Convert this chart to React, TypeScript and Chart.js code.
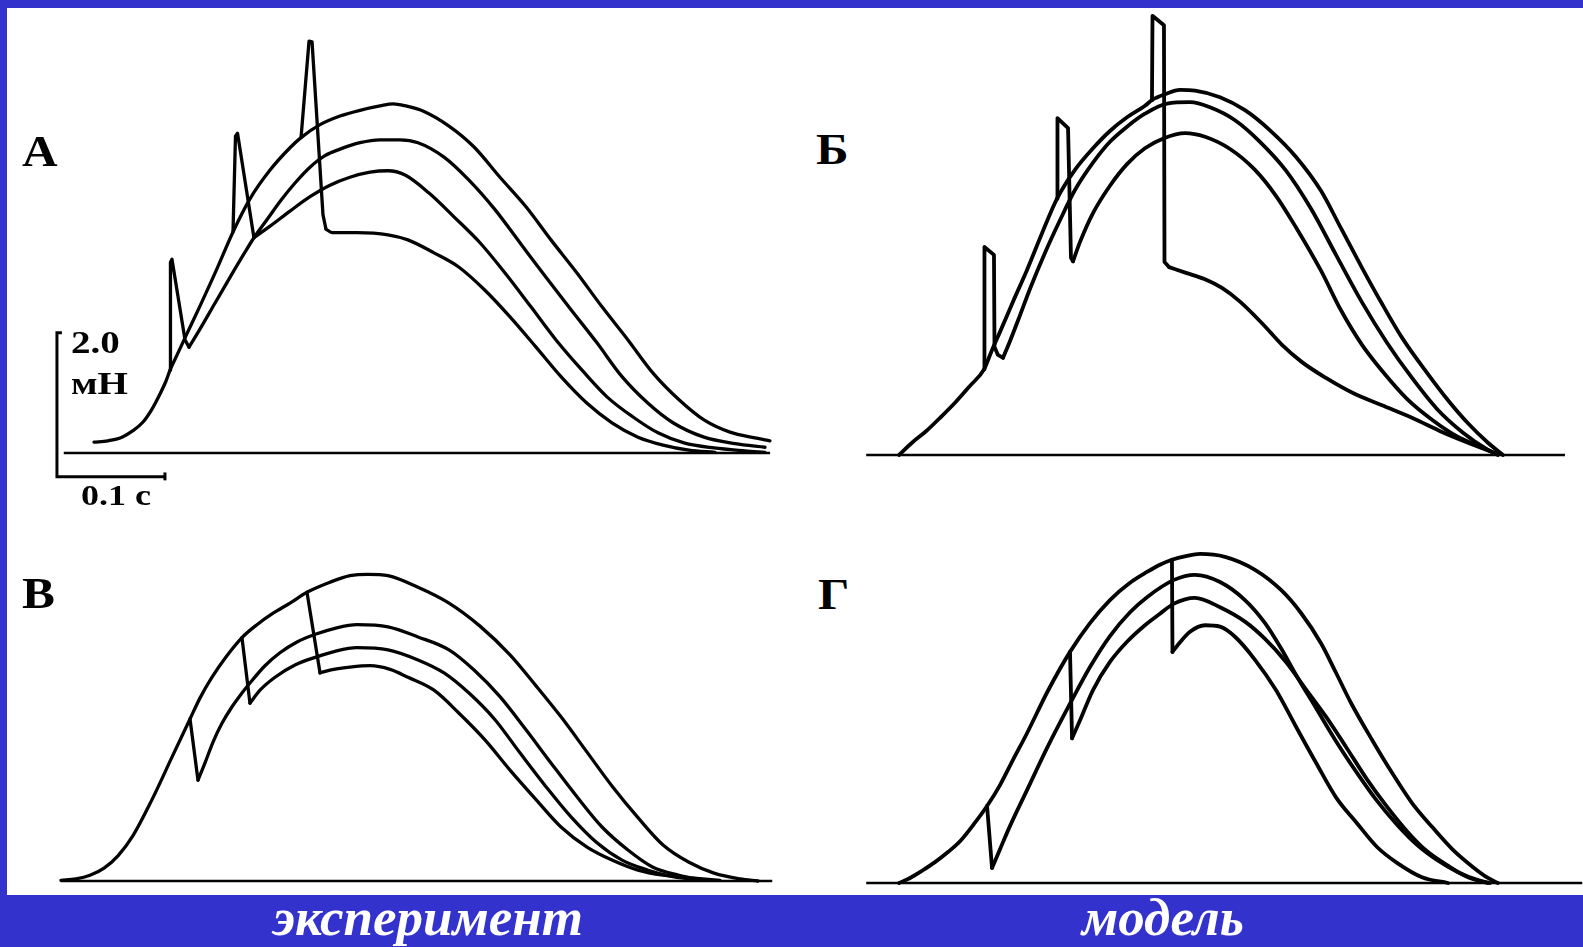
import React, { useEffect, useRef } from "react";
import { Chart, registerables } from "chart.js";

Chart.register(...registerables);

// Each point is [time, ms ; force, mN]
type Pt = [number, number];

// ---------- Panel А: experiment, three perturbation times ----------
const riseA: Pt[] = [[50, 0.15], [63, 0.17], [75.9, 0.22], [86.1, 0.31], [95.4, 0.43], [103.7, 0.61], [111.1, 0.82], [116.7, 1.0], [120.4, 1.15]];
const ctrlA: Pt[] = [[127.8, 1.39], [135.2, 1.63], [148.1, 2.04], [163.9, 2.56], [178.7, 3.07], [194.4, 3.53], [213, 3.93], [231.5, 4.24], [241.7, 4.38], [259.3, 4.56], [277.8, 4.68], [296.3, 4.76], [314.8, 4.82], [326.9, 4.85], [338.9, 4.82], [354.6, 4.75], [378.7, 4.54], [401.9, 4.25], [425.9, 3.83], [450, 3.42], [473.1, 2.96], [497.2, 2.5], [520.4, 2.03], [544.4, 1.57], [567.6, 1.11], [591.7, 0.74], [614.8, 0.46], [638.9, 0.29], [662, 0.21], [675.9, 0.17]];
const jumpA1: Pt[] = [[120.4, 1.15], [120.8, 2.65], [122.2, 2.69], [134.3, 1.57], [138, 1.47]];
const stepA1: Pt[] = [[138, 1.47], [148.1, 1.72], [162, 2.08], [175.9, 2.44], [189.8, 2.79], [198.1, 2.99], [211.1, 3.26], [223.1, 3.51], [236.1, 3.75], [250, 3.97], [263.9, 4.13], [277.8, 4.22], [296.3, 4.31], [314.8, 4.35], [333.3, 4.35], [350, 4.31], [374.1, 4.11], [397.2, 3.79], [421.3, 3.38], [444.4, 2.92], [468.5, 2.44], [491.7, 1.99], [515.7, 1.53], [538.9, 1.06], [563, 0.69], [586.1, 0.42], [614.8, 0.22], [643.5, 0.13], [671.3, 0.08]];
const jumpA2: Pt[] = [[178.7, 3.07], [181, 4.4], [182.9, 4.44], [198.1, 2.99]];
const stepA2: Pt[] = [[198.1, 2.99], [213, 3.15], [231.5, 3.36], [250, 3.56], [268.5, 3.72], [287, 3.83], [305.6, 3.9], [322.2, 3.92], [338, 3.86], [360.2, 3.61], [383.3, 3.28], [407.4, 2.92], [430.6, 2.5], [454.6, 2.03], [477.8, 1.57], [501.9, 1.15], [525, 0.78], [549.1, 0.5], [572.2, 0.28], [596.3, 0.14], [624.1, 0.07], [652.8, 0.03], [671.3, 0.01]];
const jumpA3: Pt[] = [[241.7, 4.38], [249.1, 5.72], [251.9, 5.71], [262, 3.31], [264.8, 3.11]];
const stepA3: Pt[] = [[264.8, 3.11], [270.4, 3.06], [293.5, 3.06], [322.2, 3.03], [340.7, 2.96], [364.8, 2.78], [388, 2.58], [412, 2.26], [435.2, 1.89], [459.3, 1.47], [482.4, 1.06], [506.5, 0.69], [529.6, 0.42], [553.7, 0.22], [576.9, 0.11], [600.9, 0.04], [625, 0.01]];
const baseA: Pt[] = [[22, 0], [676, 0]];

// ---------- Panel Б: model, three perturbation times ----------
const riseB: Pt[] = [[45.4, 0], [57.4, 0.17], [70.4, 0.33], [84.3, 0.53], [98.1, 0.74], [111.1, 0.96], [124.1, 1.19]];
const ctrlB: Pt[] = [[131.5, 1.46], [138.9, 1.71], [150.9, 2.13], [163.9, 2.57], [177.8, 3.08], [191.7, 3.56], [208.3, 3.96], [225, 4.26], [240.7, 4.5], [256.5, 4.69], [273.1, 4.85], [279.6, 4.93], [291.7, 5.01], [305.6, 5.07], [319.4, 5.06], [342.6, 4.97], [365.7, 4.79], [388.9, 4.51], [413, 4.14], [436.1, 3.67], [454.6, 3.15], [474.1, 2.6], [492.6, 2.1], [511.1, 1.63], [534.3, 1.14], [553.7, 0.76], [572.2, 0.44], [590.7, 0.17], [604.6, 0]];
const jumpB1: Pt[] = [[124.1, 1.19], [124.5, 2.89], [133.3, 2.78], [133.8, 1.5], [137, 1.39], [141.7, 1.35]];
const stepB1: Pt[] = [[141.7, 1.35], [148.1, 1.58], [157.4, 1.94], [166.7, 2.31], [180.6, 2.81], [194.4, 3.26], [208.3, 3.68], [225, 4.06], [240.7, 4.35], [256.5, 4.56], [273.1, 4.74], [293.5, 4.88], [314.8, 4.9], [333.3, 4.83], [356.5, 4.65], [379.6, 4.35], [403.7, 3.95], [426.9, 3.42], [450, 2.78], [474.1, 2.12], [497.2, 1.56], [520.4, 1.07], [543.5, 0.64], [567.6, 0.31], [590.7, 0.07], [600, 0]];
const jumpB2: Pt[] = [[191.7, 3.56], [192.1, 4.68], [201.9, 4.54], [204.6, 2.74], [206.5, 2.69]];
const stepB2: Pt[] = [[206.5, 2.69], [213, 2.96], [225, 3.36], [240.7, 3.74], [256.5, 4.04], [273.1, 4.26], [290.7, 4.4], [310.2, 4.47], [328.7, 4.42], [351.9, 4.25], [375, 3.96], [394.4, 3.6], [413, 3.16], [436.1, 2.56], [454.6, 2.01], [474.1, 1.53], [492.6, 1.17], [515.7, 0.78], [538.9, 0.49], [563, 0.25], [586.1, 0.1], [600, 0.01]];
const jumpB3: Pt[] = [[279.6, 4.93], [280.1, 6.1], [290.7, 5.97], [291.2, 2.68], [295.4, 2.61]];
const stepB3: Pt[] = [[295.4, 2.61], [311.1, 2.53], [328.7, 2.44], [344.4, 2.32], [361.1, 2.13], [381.5, 1.83], [400, 1.53], [418.5, 1.29], [440.7, 1.07], [465.7, 0.86], [492.6, 0.69], [521.3, 0.51], [548.1, 0.32], [572.2, 0.17], [600, 0.01]];
const baseB: Pt[] = [[15, 0], [662, 0]];

// ---------- Panel В: experiment, three release times ----------
const riseC: Pt[] = [[19.4, 0.01], [33.3, 0.03], [46.3, 0.08], [59.3, 0.18], [72.2, 0.35], [86.1, 0.63], [103.7, 1.13], [122.2, 1.72], [138.9, 2.25]];
const ctrlC: Pt[] = [[148.1, 2.54], [159.3, 2.83], [172.2, 3.11], [187, 3.38], [200.9, 3.56], [214.8, 3.71], [231.5, 3.86], [247.2, 4.01], [268.5, 4.15], [287, 4.24], [303.7, 4.26], [322.2, 4.24], [350, 4.08], [378.7, 3.86], [407.4, 3.54], [435.2, 3.14], [459.3, 2.71], [482.4, 2.28], [506.5, 1.79], [529.6, 1.32], [553.7, 0.88], [576.9, 0.5], [600.9, 0.26], [624.1, 0.11], [648.1, 0.03], [664.8, 0]];
const jumpC1: Pt[] = [[138.9, 2.25], [146.3, 1.4]];
const stepC1: Pt[] = [[146.3, 1.4], [152.8, 1.64], [160.2, 1.93], [168.5, 2.19], [177.8, 2.42], [187, 2.61], [194.4, 2.75], [208.3, 2.99], [222.2, 3.17], [238, 3.32], [255.6, 3.43], [273.1, 3.51], [293.5, 3.56], [322.2, 3.53], [350, 3.39], [378.7, 3.21], [401.9, 2.93], [425.9, 2.56], [450, 2.1], [473.1, 1.64], [497.2, 1.17], [520.4, 0.75], [544.4, 0.43], [567.6, 0.19], [591.7, 0.08], [614.8, 0.01]];
const jumpC2: Pt[] = [[187, 3.38], [194.4, 2.47]];
const stepC2: Pt[] = [[194.4, 2.47], [203.7, 2.65], [217.6, 2.83], [236.1, 3.0], [255.6, 3.11], [273.1, 3.19], [293.5, 3.24], [322.2, 3.21], [350, 3.07], [374.1, 2.89], [397.2, 2.61], [421.3, 2.24], [444.4, 1.78], [468.5, 1.31], [491.7, 0.89], [515.7, 0.53], [538.9, 0.29], [563, 0.15], [586.1, 0.06], [614.8, 0.01]];
const jumpC3: Pt[] = [[247.2, 4.01], [259.3, 2.89]];
const stepC3: Pt[] = [[259.3, 2.89], [268.5, 2.93], [287, 2.97], [305.6, 2.99], [324.1, 2.94], [340.7, 2.83], [364.8, 2.65], [388, 2.33], [412, 1.96], [435.2, 1.54], [459.3, 1.13], [482.4, 0.75], [506.5, 0.47], [529.6, 0.29], [553.7, 0.15], [576.9, 0.08], [605.6, 0.04], [629.6, 0.01]];
const baseC: Pt[] = [[19, 0], [678, 0]];

// ---------- Panel Г: model, three release times ----------
const riseD: Pt[] = [[45.4, 0], [55.6, 0.07], [66.7, 0.17], [78.7, 0.29], [90.7, 0.43], [101.9, 0.58], [114.8, 0.82], [126.9, 1.07]];
const ctrlD: Pt[] = [[138.9, 1.36], [150.9, 1.71], [163.9, 2.08], [183.3, 2.67], [203.7, 3.21], [222.2, 3.61], [240.7, 3.93], [259.3, 4.17], [275, 4.32], [287, 4.42], [298.1, 4.49], [311.1, 4.54], [324.1, 4.57], [347.2, 4.53], [375, 4.35], [399.1, 4.07], [417.6, 3.75], [436.1, 3.33], [450, 2.92], [463.9, 2.5], [483.3, 1.99], [501.9, 1.53], [520.4, 1.11], [538.9, 0.78], [558.3, 0.46], [576.9, 0.22], [590.7, 0.07], [600, 0]];
const jumpD1: Pt[] = [[126.9, 1.07], [131.5, 0.21]];
const stepD1: Pt[] = [[131.5, 0.21], [138.9, 0.47], [148.1, 0.79], [163.9, 1.29], [183.3, 1.9], [203.7, 2.49], [222.2, 3.0], [240.7, 3.43], [259.3, 3.76], [275, 3.97], [300, 4.21], [319.4, 4.28], [342.6, 4.18], [365.7, 3.93], [384.3, 3.61], [399.1, 3.26], [413, 2.89], [431.5, 2.43], [450, 1.97], [469.4, 1.53], [488, 1.14], [506.5, 0.81], [525, 0.53], [543.5, 0.32], [563, 0.15], [581.5, 0.04], [592.6, 0]];
const jumpD2: Pt[] = [[203.7, 3.21], [205.6, 2.01]];
const stepD2: Pt[] = [[205.6, 2.01], [213, 2.26], [225, 2.68], [240.7, 3.07], [256.5, 3.35], [273.1, 3.58], [287, 3.74], [300, 3.88], [319.4, 3.96], [342.6, 3.83], [365.7, 3.63], [384.3, 3.39], [403.7, 3.07], [422.2, 2.69], [440.7, 2.31], [459.3, 1.89], [478.7, 1.44], [497.2, 1.06], [515.7, 0.72], [534.3, 0.44], [553.7, 0.24], [572.2, 0.08], [590.7, 0]];
const jumpD3: Pt[] = [[298.1, 4.49], [298.6, 3.21]];
const stepD3: Pt[] = [[298.6, 3.21], [303.7, 3.31], [314.8, 3.49], [328.7, 3.58], [342.6, 3.56], [356.5, 3.42], [375, 3.1], [394.4, 2.68], [413, 2.17], [431.5, 1.67], [450, 1.19], [469.4, 0.83], [488, 0.5], [506.5, 0.28], [529.6, 0.08], [553.7, 0]];
const baseD: Pt[] = [[15, 0], [678, 0]];

// Calibration bar of panel А
const SCALE_BAR_MS = 100;
const SCALE_BAR_MN = 2.0;
const SCALE_BAR_AT: Pt = [15.7, -0.33];

const PANEL_LETTERS = ["А", "Б", "В", "Г"];
const SCALE_TEXT = ["2.0", "мН", "0.1 с"];
const CAPTIONS = ["эксперимент", "модель"];

const INK = "#030303";
const BLUE = "#3432cc";
const SERIF = '"Liberation Serif", "Times New Roman", "DejaVu Serif", serif';
const PX_PER_MS = 1.08;
const PX_PER_MN = 72;

interface PanelSpec {
  left: number;
  top: number;
  tMax: number;
  fMin: number;
  fMax: number;
  lineWidth: number;
  curves: Pt[][];
  jumps: Pt[][];
  baseline: Pt[];
  marks?: Pt[][];
}

const [sbT, sbF] = SCALE_BAR_AT;
const scaleBar: Pt[] = [
  [sbT + 4.6, sbF + SCALE_BAR_MN],
  [sbT, sbF + SCALE_BAR_MN],
  [sbT, sbF],
  [sbT + SCALE_BAR_MS, sbF],
];
const scaleTick: Pt[] = [
  [sbT + SCALE_BAR_MS, sbF - 0.05],
  [sbT + SCALE_BAR_MS, sbF + 0.06],
];

const PANELS: PanelSpec[] = [
  {
    left: 40, top: 21, tMax: 700, fMin: -0.5, fMax: 6.0, lineWidth: 3.3,
    curves: [[...riseA, ...ctrlA], stepA1, stepA2, stepA3],
    jumps: [jumpA1, jumpA2, jumpA3],
    baseline: baseA,
    marks: [scaleBar, scaleTick],
  },
  {
    left: 850, top: 5, tMax: 678.7, fMin: -0.25, fMax: 6.25, lineWidth: 3.8,
    curves: [[...riseB, ...ctrlB], stepB1, stepB2, stepB3],
    jumps: [jumpB1, jumpB2, jumpB3],
    baseline: baseB,
  },
  {
    left: 40, top: 521, tMax: 700, fMin: -0.25, fMax: 5.0, lineWidth: 3.3,
    curves: [[...riseC, ...ctrlC], stepC1, stepC2, stepC3],
    jumps: [jumpC1, jumpC2, jumpC3],
    baseline: baseC,
  },
  {
    left: 850, top: 523, tMax: 678.7, fMin: -0.25, fMax: 5.0, lineWidth: 3.8,
    curves: [[...riseD, ...ctrlD], stepD1, stepD2, stepD3],
    jumps: [jumpD1, jumpD2, jumpD3],
    baseline: baseD,
  },
];

function TraceChart({ panel }: { panel: PanelSpec }) {
  const ref = useRef<HTMLCanvasElement | null>(null);
  const w = Math.round(panel.tMax * PX_PER_MS);
  const h = Math.round((panel.fMax - panel.fMin) * PX_PER_MN);

  useEffect(() => {
    const canvas = ref.current;
    if (!canvas) return;
    const smooth = (pts: Pt[]) => ({
      data: pts.map(([x, y]) => ({ x, y })),
      borderColor: INK,
      borderWidth: panel.lineWidth,
      cubicInterpolationMode: "monotone" as const,
      pointRadius: 0,
      fill: false,
      borderJoinStyle: "round" as const,
      borderCapStyle: "round" as const,
    });
    const straight = (pts: Pt[], width: number, join: "round" | "miter") => ({
      ...smooth(pts),
      borderWidth: width,
      cubicInterpolationMode: "default" as const,
      tension: 0,
      borderJoinStyle: join,
      borderCapStyle: join === "round" ? ("round" as const) : ("butt" as const),
    });
    const datasets = [
      straight(panel.baseline, 2.5, "miter"),
      ...panel.curves.map(smooth),
      ...panel.jumps.map((j) => straight(j, panel.lineWidth, "round")),
      ...(panel.marks ?? []).map((m) => straight(m, 3, "miter")),
    ];
    const chart = new Chart(canvas, {
      type: "line",
      data: { datasets },
      options: {
        animation: false,
        responsive: false,
        events: [],
        layout: { padding: 0 },
        plugins: {
          legend: { display: false },
          tooltip: { enabled: false },
          title: { display: false },
        },
        scales: {
          x: { type: "linear", min: 0, max: panel.tMax, display: false },
          y: { type: "linear", min: panel.fMin, max: panel.fMax, display: false },
        },
      },
    });
    return () => chart.destroy();
  }, [panel]);

  return (
    <canvas
      ref={ref}
      width={w}
      height={h}
      style={{ position: "absolute", left: panel.left, top: panel.top, width: w, height: h }}
    />
  );
}

interface TxtProps {
  text: string;
  x: number;
  base: number;
  size: number;
  sx?: number;
  color?: string;
  italic?: boolean;
  center?: boolean;
}

function Txt({ text, x, base, size, sx = 1, color = INK, italic = false, center = false }: TxtProps) {
  const style: React.CSSProperties = {
    position: "absolute",
    top: base - 0.8375 * size,
    fontFamily: SERIF,
    fontWeight: 700,
    fontStyle: italic ? "italic" : "normal",
    fontSize: size,
    lineHeight: 1,
    color,
    whiteSpace: "nowrap",
    transform: `scaleX(${sx})`,
  };
  if (center) {
    return (
      <div style={{ ...style, left: x - 400, width: 800, textAlign: "center", transformOrigin: "center center" }}>
        {text}
      </div>
    );
  }
  return <div style={{ ...style, left: x, transformOrigin: "left center" }}>{text}</div>;
}

export default function App() {
  return (
    <div
      style={{
        position: "fixed",
        left: 0,
        top: 0,
        width: 1583,
        height: 947,
        background: "#ffffff",
        overflow: "hidden",
      }}
    >
      <div style={{ position: "absolute", left: 0, top: 0, width: 1583, height: 8, background: BLUE }} />
      <div style={{ position: "absolute", left: 0, top: 0, width: 7, height: 947, background: BLUE }} />
      <div style={{ position: "absolute", left: 0, top: 895, width: 1583, height: 52, background: BLUE }} />

      {PANELS.map((p, i) => (
        <TraceChart key={i} panel={p} />
      ))}

      <Txt text={PANEL_LETTERS[0]} x={22} base={167} size={44} sx={1.12} />
      <Txt text={PANEL_LETTERS[1]} x={816} base={165} size={44} sx={1.12} />
      <Txt text={PANEL_LETTERS[2]} x={22} base={609} size={44} sx={1.12} />
      <Txt text={PANEL_LETTERS[3]} x={818} base={610} size={44} sx={1.12} />

      <Txt text={SCALE_TEXT[0]} x={71} base={353} size={31} sx={1.26} />
      <Txt text={SCALE_TEXT[1]} x={71} base={394} size={31} sx={1.26} />
      <Txt text={SCALE_TEXT[2]} x={81} base={505} size={30} sx={1.2} />

      <Txt text={CAPTIONS[0]} x={428} base={935} size={53} color="#ffffff" italic center />
      <Txt text={CAPTIONS[1]} x={1163} base={935} size={53} color="#ffffff" italic center />
    </div>
  );
}
